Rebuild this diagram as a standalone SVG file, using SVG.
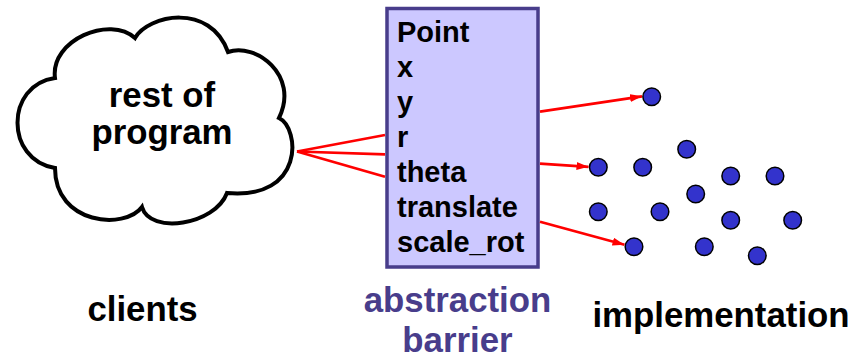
<svg xmlns="http://www.w3.org/2000/svg" width="854" height="358" viewBox="0 0 854 358">
  <style>
    .t { font-family: "Liberation Sans", Arial, sans-serif; font-weight: bold; fill: #000; }
    .big { font-size: 34.8px; }
    .box { font-size: 29px; }
    .bar { fill: #483D8B; }
    .edge { stroke: #FF0000; stroke-width: 2.7; fill: none; }
    .dot { fill: #3333CC; stroke: #000; stroke-width: 1.5; }
  </style>
  <defs>
    <marker id="ah" markerUnits="userSpaceOnUse" markerWidth="13" markerHeight="9" refX="12" refY="4" orient="auto">
      <path d="M0,0 L12,4 L0,8 z" fill="#FF0000"/>
    </marker>
  </defs>
  <rect width="854" height="358" fill="#FFFFFF"/>

  <g id="cloud">
    <path d="M55,78 C50,40 110,15 135,38 C148,15 210,2 228,52 C255,42 300,75 279,118 C300,128 305,200 227,193 C215,225 150,235 142,207 C125,230 55,225 55,168 C5,160 5,85 55,78 Z" fill="#FFFFFF" stroke="#000" stroke-width="4" stroke-linejoin="miter"/>
    <text class="t big" x="162" y="106.5" text-anchor="middle">rest of</text>
    <text class="t big" x="162" y="144" text-anchor="middle">program</text>
  </g>

  <g id="barrier">
    <rect x="387" y="8.5" width="151" height="258.5" fill="#CCC8FF" stroke="#483D8B" stroke-width="3.5"/>
    <text class="t box" x="397" y="41.7">Point</text>
    <text class="t box" x="397" y="76.7">x</text>
    <text class="t box" x="397" y="111.7">y</text>
    <text class="t box" x="397" y="146.7">r</text>
    <text class="t box" x="397" y="181.7">theta</text>
    <text class="t box" x="397" y="216.7">translate</text>
    <text class="t box" x="397" y="251.7">scale_rot</text>
  </g>

  <g id="connectors">
    <line class="edge" x1="297" y1="151.5" x2="385" y2="135"/>
    <line class="edge" x1="297" y1="151.5" x2="385" y2="154.3"/>
    <line class="edge" x1="297" y1="151.5" x2="385" y2="176.7"/>
    <line class="edge" x1="540" y1="111.7" x2="642" y2="96.3" marker-end="url(#ah)"/>
    <line class="edge" x1="540" y1="163.7" x2="588.5" y2="166.8" marker-end="url(#ah)"/>
    <line class="edge" x1="540" y1="221.7" x2="624.5" y2="244.8" marker-end="url(#ah)"/>
  </g>

  <g id="implementation-dots">
    <circle class="dot" cx="651.7" cy="96.7" r="8.8"/>
    <circle class="dot" cx="598.3" cy="167.3" r="8.8"/>
    <circle class="dot" cx="642.7" cy="167.3" r="8.8"/>
    <circle class="dot" cx="686.7" cy="149.3" r="8.8"/>
    <circle class="dot" cx="730.7" cy="176" r="8.8"/>
    <circle class="dot" cx="775" cy="176" r="8.8"/>
    <circle class="dot" cx="695.7" cy="194" r="8.8"/>
    <circle class="dot" cx="598.3" cy="211.7" r="8.8"/>
    <circle class="dot" cx="660" cy="211.7" r="8.8"/>
    <circle class="dot" cx="730.7" cy="220.3" r="8.8"/>
    <circle class="dot" cx="792.7" cy="220.3" r="8.8"/>
    <circle class="dot" cx="634" cy="246.7" r="8.8"/>
    <circle class="dot" cx="704.3" cy="246.7" r="8.8"/>
    <circle class="dot" cx="757.3" cy="255.7" r="8.8"/>
  </g>

  <g id="labels">
    <text class="t big" x="142.5" y="321" text-anchor="middle">clients</text>
    <text class="t big bar" x="457.5" y="311.5" text-anchor="middle">abstraction</text>
    <text class="t big bar" x="457.5" y="351.5" text-anchor="middle">barrier</text>
    <text class="t big" x="721" y="327" text-anchor="middle">implementation</text>
  </g>
</svg>
